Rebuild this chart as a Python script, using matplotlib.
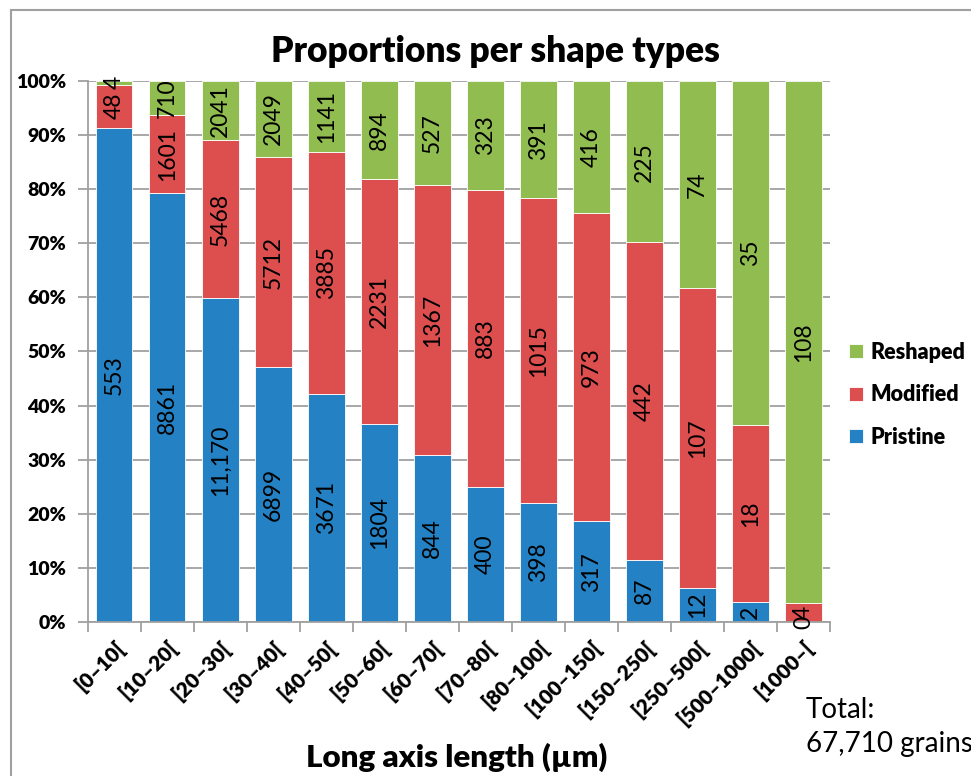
import numpy as np
import matplotlib
matplotlib.use("Agg")
import matplotlib.pyplot as plt
from matplotlib.patches import Rectangle

plt.rcParams['font.family'] = ['Lato', 'DejaVu Sans']

# dados
classes = ["[0–10[", "[10–20[", "[20–30[", "[30–40[", "[40–50[", "[50–60[",
           "[60–70[", "[70–80[", "[80–100[", "[100–150[", "[150–250[",
           "[250–500[", "[500–1000[", "[1000–["]
pristine = [553, 8861, 11170, 6899, 3671, 1804, 844, 400, 398, 317, 87, 12, 2, 0]
modified = [48, 1601, 5468, 5712, 3885, 2231, 1367, 883, 1015, 973, 442, 107, 18, 4]
reshaped = [4, 710, 2041, 2049, 1141, 894, 527, 323, 391, 416, 225, 74, 35, 108]
rotulos_pristine = ["553", "8861", "11,170", "6899", "3671", "1804", "844", "400",
                    "398", "317", "87", "12", "2", "0"]
total_txt = "Total:\n67,710 grains"

cores = {"Pristine": "#2381C4", "Modified": "#DD4E4E", "Reshaped": "#91BD50"}
PESO = "heavy"

p = np.array(pristine, float)
m = np.array(modified, float)
r = np.array(reshaped, float)
tot = p + m + r
pp, mp, rp = 100 * p / tot, 100 * m / tot, 100 * r / tot

fig = plt.figure(figsize=(9.71, 7.76), dpi=100)
ax = fig.add_axes([0.0906, 0.1985, 0.7642, 0.6971])

x = np.arange(len(classes))
w = 0.68
b1 = ax.bar(x, pp, w, color=cores["Pristine"], edgecolor="white", linewidth=0.6, label="Pristine", zorder=2)
b2 = ax.bar(x, mp, w, bottom=pp, color=cores["Modified"], edgecolor="white", linewidth=0.6, label="Modified", zorder=2)
b3 = ax.bar(x, rp, w, bottom=pp + mp, color=cores["Reshaped"], edgecolor="white", linewidth=0.6, label="Reshaped", zorder=2)

# rótulos dos valores
fs = 16.5
for i in range(len(classes)):
    ax.text(x[i], pp[i] / 2, rotulos_pristine[i], rotation=90, ha="center", va="center", fontsize=fs, zorder=3)
    ax.text(x[i], pp[i] + mp[i] / 2, str(modified[i]), rotation=90, ha="center", va="center", fontsize=fs, zorder=3)
    ax.text(x[i], pp[i] + mp[i] + rp[i] / 2, str(reshaped[i]), rotation=90, ha="center", va="center", fontsize=fs, zorder=3)

ax.set_xlim(-0.5, len(classes) - 0.5)
ax.set_ylim(0, 100)
ax.set_yticks(np.arange(0, 101, 10))
ax.set_yticklabels([f"{v}%" for v in range(0, 101, 10)], fontweight=PESO, fontsize=14)
ax.yaxis.grid(True, color="#A0A0A0", linewidth=1.3, zorder=0)
ax.set_axisbelow(True)

ax.set_xticks(x)
ax.set_xticklabels(classes, rotation=45, ha="right", rotation_mode="anchor", fontweight=PESO, fontsize=15)
ax.set_xticks(np.arange(-0.5, len(classes), 1), minor=True)
ax.tick_params(axis="x", which="major", length=0, pad=11)
ax.tick_params(axis="x", which="minor", length=7, width=1.3, color="#A0A0A0", direction="out")
ax.tick_params(axis="y", length=7, width=1.3, color="#A0A0A0", direction="out", pad=9)

for s in ["top", "right"]:
    ax.spines[s].set_visible(False)
for s in ["left", "bottom"]:
    ax.spines[s].set_color("#A0A0A0")
    ax.spines[s].set_linewidth(1.3)

fig.text(0.51, 1 - 52 / 776, "Proportions per shape types", fontsize=25.5, fontweight=PESO, ha="center", va="center")
fig.text(0.47, 0.024, "Long axis length (µm)", fontsize=22.5, fontweight=PESO, ha="center", va="center")
fig.text(0.83, 0.025, total_txt, fontsize=20, ha="left", va="bottom", linespacing=1.35)

hs = [b3, b2, b1]
ax.legend(hs, ["Reshaped", "Modified", "Pristine"], loc="center left", bbox_to_anchor=(1.0, 0.42),
          frameon=False, prop={"weight": PESO, "size": 15.5}, handlelength=0.65, handleheight=0.65,
          handletextpad=0.35, labelspacing=1.0)

# moldura
fig.patches.append(Rectangle((11 / 971, -0.02), 1.0, 1 - 10 / 776 + 0.02, transform=fig.transFigure,
                             fill=False, edgecolor="#A0A0A0", linewidth=1.5))

fig.savefig("out.png", dpi=100)
